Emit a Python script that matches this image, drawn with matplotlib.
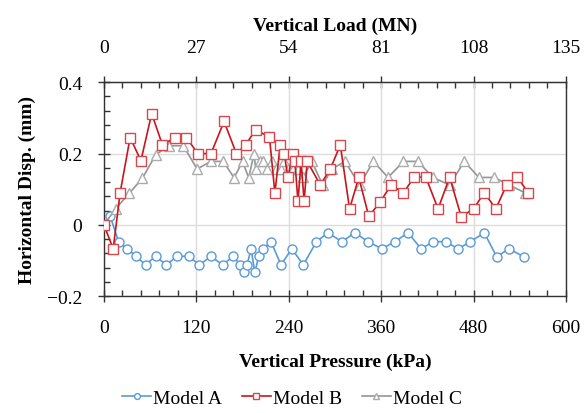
import matplotlib
matplotlib.use("Agg")
import matplotlib.pyplot as plt
from matplotlib.ticker import MultipleLocator

plt.rcParams['font.family'] = ['Liberation Serif', 'DejaVu Serif']
plt.rcParams['axes.unicode_minus'] = True

# Model A (blue circles)
a_x = [0, 8, 19, 30, 42, 54, 67, 81, 95, 110, 124, 139, 154, 168, 177, 182, 186, 191,
       196, 201, 207, 217, 230, 244, 259, 276, 291, 309, 326, 343, 361, 378, 395, 412,
       428, 444, 460, 476, 494, 510, 526, 545]
a_y = [0, 0.025, -0.047, -0.067, -0.088, -0.112, -0.088, -0.112, -0.088, -0.088, -0.112,
       -0.088, -0.112, -0.088, -0.112, -0.133, -0.112, -0.067, -0.133, -0.088, -0.067,
       -0.047, -0.112, -0.067, -0.112, -0.047, -0.022, -0.047, -0.022, -0.047, -0.067,
       -0.047, -0.022, -0.067, -0.047, -0.047, -0.067, -0.047, -0.022, -0.089, -0.067,
       -0.089]

# Model B (red squares)
b_x = [0, 12, 21, 34, 48, 62, 76, 92, 107, 122, 139, 156, 172, 184, 197, 215, 222, 229,
       234, 239, 245, 248, 252, 256, 260, 264, 281, 294, 307, 319, 331, 344, 359, 373,
       389, 403, 418, 434, 449, 464, 480, 494, 509, 523, 537, 551]
b_y = [0, -0.067, 0.09, 0.245, 0.18, 0.312, 0.224, 0.245, 0.245, 0.2, 0.2, 0.29, 0.2,
       0.224, 0.267, 0.246, 0.089, 0.225, 0.2, 0.134, 0.2, 0.178, 0.066, 0.178, 0.066,
       0.178, 0.112, 0.157, 0.224, 0.045, 0.133, 0.024, 0.065, 0.112, 0.09, 0.134, 0.134,
       0.045, 0.134, 0.023, 0.045, 0.09, 0.045, 0.112, 0.134, 0.09]

# Model C (grey triangles)
c_x = [0, 15, 33, 50, 67, 84, 103, 121, 139, 155, 169, 180, 188, 195, 197, 203, 207,
       212, 218, 224, 230, 234, 239, 246, 252, 259, 270, 284, 296, 313, 332, 350, 369,
       389, 408, 427, 449, 468, 487, 507, 526, 547]
c_y = [0, 0.045, 0.089, 0.131, 0.196, 0.222, 0.222, 0.157, 0.178, 0.178, 0.132, 0.178,
       0.132, 0.2, 0.157, 0.178, 0.178, 0.157, 0.178, 0.157, 0.157, 0.178, 0.157, 0.157,
       0.157, 0.134, 0.178, 0.112, 0.157, 0.178, 0.112, 0.178, 0.133, 0.178, 0.178,
       0.133, 0.112, 0.178, 0.133, 0.133, 0.112, 0.09]

mn_per_kpa = 0.225  # MN per kPa for the top axis
top_ticks = [0, 27, 54, 81, 108, 135]

fig = plt.figure(figsize=(5.84, 4.14), dpi=100)
ax = fig.add_axes([0.178, 0.282, 0.791, 0.517])

style = dict(lw=1.2, ms=6.5, mfc='white', mew=1.0)
ax.plot(a_x, a_y, marker='o', color='#5B9BD5', label='Model A', zorder=3, **style)
ax.plot(b_x, b_y, marker='s', color='#C8161D', mec='#D9474C', label='Model B', zorder=4, **style)
ax.plot(c_x, c_y, marker='^', color='#959595', mec='#ABABAB', label='Model C', zorder=3, **style)

ax.set_xlim(0, 600)
ax.set_ylim(-0.2, 0.4)
ax.xaxis.set_major_locator(MultipleLocator(120))
ax.xaxis.set_minor_locator(MultipleLocator(24))
ax.yaxis.set_minor_locator(MultipleLocator(0.04))
ax.set_yticks([-0.2, 0, 0.2, 0.4])
ax.set_yticklabels(['\u22120.2', '0', '0.2', '0.4'])
ax.grid(True, which='major', color='#DCDCDC', lw=1.0, zorder=0)

ax.tick_params(which='major', direction='inout', length=9, width=1, labelsize=14,
               color='#333333')
ax.tick_params(axis='x', which='major', pad=12)
ax.tick_params(axis='y', which='major', pad=11)
ax.tick_params(which='minor', direction='in', length=4.5, width=1, color='#333333')
for s in ax.spines.values():
    s.set_color('#333333')
    s.set_linewidth(1.0)

ax.set_xlabel('Vertical Pressure (kPa)', fontsize=14, fontweight='bold', labelpad=12)
ax.set_ylabel('Horizontal Disp. (mm)', fontsize=14, fontweight='bold', labelpad=8)

top = ax.secondary_xaxis('top', functions=(lambda x: x * mn_per_kpa, lambda x: x / mn_per_kpa))
top.set_xticks(top_ticks)
top.xaxis.set_minor_locator(MultipleLocator(5.4))
top.tick_params(which='major', direction='inout', length=9, width=1, labelsize=14,
                color='#333333', pad=14.5)
top.tick_params(which='minor', direction='in', length=4.5, width=1, color='#333333')
top.spines['top'].set_color('#333333')
top.set_xlabel('Vertical Load (MN)', fontsize=14, fontweight='bold', labelpad=6.5)

fig.legend(loc='lower center', bbox_to_anchor=(0.5, -0.028), ncol=3, frameon=False,
           fontsize=14, handlelength=1.5, handletextpad=0.1, columnspacing=1.0,
           markerscale=0.65)

fig.savefig('out.png', dpi=100, facecolor='white')
